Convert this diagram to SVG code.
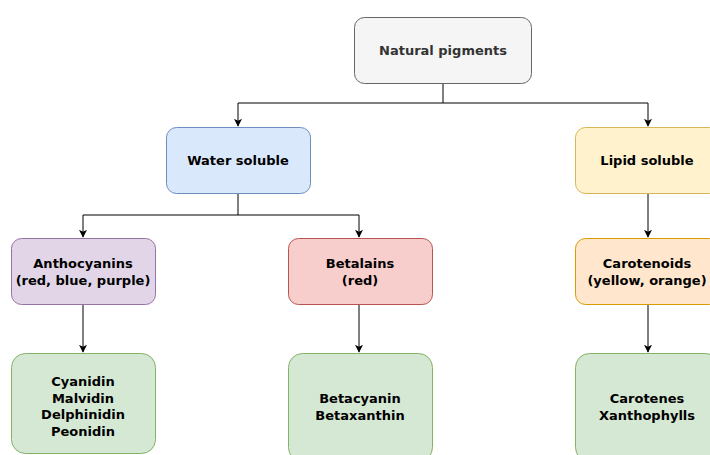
<svg xmlns="http://www.w3.org/2000/svg" width="710" height="455" viewBox="0 0 710 455">
<style>
text{font-family:"DejaVu Sans",Verdana,sans-serif;font-size:13px;font-weight:bold;fill:#000;text-anchor:middle;dominant-baseline:central}
.n rect{stroke-width:1}
.c{fill:none;stroke:#000;stroke-width:1;marker-end:url(#a)}
</style>
<defs>
<marker id="a" viewBox="0 0 10 10" refX="9" refY="5" markerWidth="8" markerHeight="8" markerUnits="userSpaceOnUse" orient="auto"><path d="M0,0L10,5L0,10L2.5,5Z" fill="#000"/></marker>
</defs>
<g id="connectors">
<path class="c" d="M443,83V103H238V126"/>
<path class="c" d="M443,103H648V126"/>
<path class="c" d="M238,194V215H83V237"/>
<path class="c" d="M238,215H359V237"/>
<path class="c" d="M648,194V237"/>
<path class="c" d="M83,305V352"/>
<path class="c" d="M359,305V352"/>
<path class="c" d="M648,305V352"/>
</g>
<g id="natural" class="n"><rect x="354.5" y="17.5" width="177" height="66" rx="10" fill="#f5f5f5" stroke="#666666"/><text x="443" y="50" style="fill:#333333">Natural pigments</text></g>
<g id="water" class="n"><rect x="166.5" y="127.5" width="144" height="66" rx="10" fill="#dae8fc" stroke="#6c8ebf"/><text x="238" y="160.5">Water soluble</text></g>
<g id="lipid" class="n"><rect x="575.5" y="127.5" width="144" height="66" rx="10" fill="#fff2cc" stroke="#d6b656"/><text x="647" y="160.5">Lipid soluble</text></g>
<g id="antho" class="n"><rect x="11.5" y="238.5" width="144" height="66" rx="10" fill="#e1d5e7" stroke="#9673a6"/><text x="83" y="263">Anthocyanins</text><text x="83" y="280">(red, blue, purple)</text></g>
<g id="betalains" class="n"><rect x="288.5" y="238.5" width="144" height="66" rx="10" fill="#f8cecc" stroke="#b85450"/><text x="360" y="263">Betalains</text><text x="360" y="280">(red)</text></g>
<g id="carotenoids" class="n"><rect x="575.5" y="238.5" width="144" height="66" rx="10" fill="#ffe6cc" stroke="#d79b00"/><text x="647" y="263">Carotenoids</text><text x="647" y="280">(yellow, orange)</text></g>
<g id="antho-list" class="n"><rect x="11.5" y="353.5" width="144" height="100" rx="14" fill="#d5e8d4" stroke="#82b366"/><text x="83" y="381.5">Cyanidin</text><text x="83" y="398">Malvidin</text><text x="83" y="414.5">Delphinidin</text><text x="83" y="431">Peonidin</text></g>
<g id="beta-list" class="n"><rect x="288.5" y="353.5" width="144" height="108" rx="14" fill="#d5e8d4" stroke="#82b366"/><text x="360" y="398.5">Betacyanin</text><text x="360" y="415">Betaxanthin</text></g>
<g id="carot-list" class="n"><rect x="575.5" y="353.5" width="144" height="108" rx="14" fill="#d5e8d4" stroke="#82b366"/><text x="647" y="398.5">Carotenes</text><text x="647" y="415">Xanthophylls</text></g>
</svg>
